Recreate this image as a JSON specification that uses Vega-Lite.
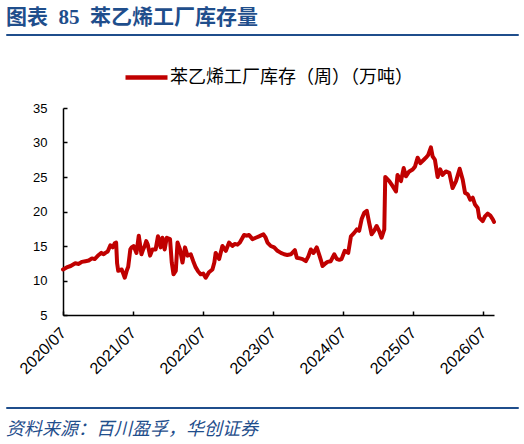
{
  "$schema": "https://vega.github.io/schema/vega-lite/v6.json",
  "background": "white",
  "padding": {"left": 5, "top": 6, "right": 5, "bottom": 5},
  "spacing": 66,
  "config": {"view": {"stroke": null}, "font": "Liberation Sans"},
  "vconcat": [
    {
      "width": 512,
      "height": 1,
      "view": {"stroke": "#1F4E8C", "strokeWidth": 1},
      "title": {"text": "图表\u00a0\u00a085\u00a0\u00a0苯乙烯工厂库存量", "anchor": "start", "orient": "top", "offset": 6, "fontSize": 21, "fontWeight": "bold", "color": "#1F4E8C", "font": "Liberation Serif, Noto Sans CJK SC"},
      "data": {"values": []},
      "mark": "point",
      "encoding": {}
    },
    {
      "spacing": 29,
      "vconcat": [
        {
          "spacing": 0,
          "hconcat": [
            {"width": 10, "height": 1, "data": {"values": []}, "mark": "point", "encoding": {}},
            {
              "width": 431,
              "height": 207,
              "data": {"values": [
                {"date": "2020-07-01", "v": 11.6},
                {"date": "2020-07-20", "v": 11.9},
                {"date": "2020-08-10", "v": 12.1},
                {"date": "2020-09-03", "v": 12.5},
                {"date": "2020-09-21", "v": 12.4},
                {"date": "2020-10-07", "v": 12.7},
                {"date": "2020-10-26", "v": 12.8},
                {"date": "2020-11-12", "v": 12.9},
                {"date": "2020-11-29", "v": 13.2},
                {"date": "2020-12-13", "v": 13.1},
                {"date": "2021-01-03", "v": 13.7},
                {"date": "2021-01-17", "v": 14.0},
                {"date": "2021-01-29", "v": 13.8},
                {"date": "2021-02-07", "v": 14.0},
                {"date": "2021-02-19", "v": 14.2},
                {"date": "2021-03-05", "v": 15.1},
                {"date": "2021-03-17", "v": 14.8},
                {"date": "2021-03-28", "v": 15.4},
                {"date": "2021-04-04", "v": 15.5},
                {"date": "2021-04-09", "v": 12.5},
                {"date": "2021-04-15", "v": 11.4},
                {"date": "2021-05-03", "v": 11.6},
                {"date": "2021-05-11", "v": 11.0},
                {"date": "2021-05-19", "v": 10.4},
                {"date": "2021-05-30", "v": 11.5},
                {"date": "2021-06-06", "v": 12.0},
                {"date": "2021-06-17", "v": 14.5},
                {"date": "2021-06-24", "v": 14.8},
                {"date": "2021-07-04", "v": 15.0},
                {"date": "2021-07-19", "v": 14.0},
                {"date": "2021-07-31", "v": 16.5},
                {"date": "2021-08-14", "v": 13.8},
                {"date": "2021-08-23", "v": 14.5},
                {"date": "2021-08-31", "v": 15.0},
                {"date": "2021-09-08", "v": 15.7},
                {"date": "2021-09-16", "v": 15.2},
                {"date": "2021-09-28", "v": 13.6},
                {"date": "2021-10-10", "v": 14.5},
                {"date": "2021-10-27", "v": 14.5},
                {"date": "2021-11-08", "v": 16.4},
                {"date": "2021-11-22", "v": 14.8},
                {"date": "2021-12-01", "v": 16.2},
                {"date": "2021-12-13", "v": 14.5},
                {"date": "2021-12-24", "v": 16.2},
                {"date": "2022-01-10", "v": 16.0},
                {"date": "2022-01-19", "v": 12.6},
                {"date": "2022-01-28", "v": 10.9},
                {"date": "2022-02-09", "v": 11.4},
                {"date": "2022-02-18", "v": 15.5},
                {"date": "2022-03-03", "v": 14.5},
                {"date": "2022-03-16", "v": 12.6},
                {"date": "2022-03-29", "v": 14.8},
                {"date": "2022-04-11", "v": 13.6},
                {"date": "2022-04-28", "v": 13.8},
                {"date": "2022-05-11", "v": 12.8},
                {"date": "2022-05-24", "v": 11.9},
                {"date": "2022-06-06", "v": 11.3},
                {"date": "2022-06-19", "v": 10.9},
                {"date": "2022-07-02", "v": 11.0},
                {"date": "2022-07-15", "v": 10.4},
                {"date": "2022-08-01", "v": 11.2},
                {"date": "2022-08-19", "v": 11.6},
                {"date": "2022-08-29", "v": 12.6},
                {"date": "2022-09-05", "v": 14.0},
                {"date": "2022-09-23", "v": 13.1},
                {"date": "2022-10-10", "v": 15.0},
                {"date": "2022-10-28", "v": 14.3},
                {"date": "2022-11-14", "v": 15.5},
                {"date": "2022-12-01", "v": 15.0},
                {"date": "2022-12-13", "v": 15.3},
                {"date": "2022-12-28", "v": 15.2},
                {"date": "2023-01-09", "v": 15.5},
                {"date": "2023-01-23", "v": 16.2},
                {"date": "2023-01-31", "v": 16.6},
                {"date": "2023-02-14", "v": 16.5},
                {"date": "2023-02-26", "v": 16.6},
                {"date": "2023-03-16", "v": 16.0},
                {"date": "2023-04-02", "v": 16.2},
                {"date": "2023-04-19", "v": 16.4},
                {"date": "2023-05-12", "v": 16.7},
                {"date": "2023-05-22", "v": 16.3},
                {"date": "2023-06-02", "v": 15.5},
                {"date": "2023-06-19", "v": 15.0},
                {"date": "2023-07-07", "v": 14.8},
                {"date": "2023-07-24", "v": 14.3},
                {"date": "2023-08-11", "v": 14.0},
                {"date": "2023-08-28", "v": 13.8},
                {"date": "2023-09-13", "v": 13.7},
                {"date": "2023-10-02", "v": 13.8},
                {"date": "2023-10-23", "v": 14.4},
                {"date": "2023-11-02", "v": 13.3},
                {"date": "2023-11-18", "v": 13.2},
                {"date": "2023-12-02", "v": 13.1},
                {"date": "2023-12-19", "v": 12.8},
                {"date": "2024-01-01", "v": 13.5},
                {"date": "2024-01-14", "v": 14.5},
                {"date": "2024-01-28", "v": 14.0},
                {"date": "2024-02-14", "v": 14.8},
                {"date": "2024-02-26", "v": 13.8},
                {"date": "2024-03-06", "v": 13.0},
                {"date": "2024-03-15", "v": 12.1},
                {"date": "2024-03-27", "v": 12.4},
                {"date": "2024-04-10", "v": 12.7},
                {"date": "2024-04-27", "v": 12.8},
                {"date": "2024-05-15", "v": 13.8},
                {"date": "2024-05-29", "v": 13.1},
                {"date": "2024-06-11", "v": 13.0},
                {"date": "2024-06-22", "v": 13.1},
                {"date": "2024-07-09", "v": 14.3},
                {"date": "2024-07-27", "v": 14.0},
                {"date": "2024-08-10", "v": 16.4},
                {"date": "2024-08-27", "v": 16.9},
                {"date": "2024-09-10", "v": 17.4},
                {"date": "2024-09-22", "v": 17.2},
                {"date": "2024-10-05", "v": 18.9},
                {"date": "2024-10-18", "v": 19.8},
                {"date": "2024-11-01", "v": 20.1},
                {"date": "2024-11-13", "v": 18.4},
                {"date": "2024-11-26", "v": 16.7},
                {"date": "2024-12-09", "v": 17.2},
                {"date": "2024-12-22", "v": 17.9},
                {"date": "2025-01-04", "v": 17.2},
                {"date": "2025-01-17", "v": 16.2},
                {"date": "2025-01-31", "v": 17.4},
                {"date": "2025-02-05", "v": 25.0},
                {"date": "2025-02-26", "v": 24.4},
                {"date": "2025-03-15", "v": 23.7},
                {"date": "2025-04-02", "v": 22.9},
                {"date": "2025-04-10", "v": 25.3},
                {"date": "2025-04-28", "v": 24.4},
                {"date": "2025-05-12", "v": 26.3},
                {"date": "2025-05-24", "v": 25.1},
                {"date": "2025-06-10", "v": 25.8},
                {"date": "2025-06-28", "v": 26.1},
                {"date": "2025-07-10", "v": 26.5},
                {"date": "2025-07-24", "v": 27.8},
                {"date": "2025-08-07", "v": 27.0},
                {"date": "2025-08-25", "v": 27.5},
                {"date": "2025-09-05", "v": 27.8},
                {"date": "2025-09-17", "v": 28.2},
                {"date": "2025-10-01", "v": 29.3},
                {"date": "2025-10-10", "v": 28.0},
                {"date": "2025-10-22", "v": 27.5},
                {"date": "2025-11-05", "v": 25.0},
                {"date": "2025-11-19", "v": 26.1},
                {"date": "2025-12-01", "v": 25.3},
                {"date": "2025-12-18", "v": 25.8},
                {"date": "2026-01-05", "v": 25.6},
                {"date": "2026-01-22", "v": 23.4},
                {"date": "2026-02-09", "v": 24.4},
                {"date": "2026-02-28", "v": 26.2},
                {"date": "2026-03-16", "v": 24.6},
                {"date": "2026-03-28", "v": 22.7},
                {"date": "2026-04-11", "v": 22.5},
                {"date": "2026-04-24", "v": 21.7},
                {"date": "2026-05-07", "v": 22.0},
                {"date": "2026-05-19", "v": 21.0},
                {"date": "2026-06-02", "v": 20.5},
                {"date": "2026-06-10", "v": 19.1},
                {"date": "2026-06-28", "v": 18.6},
                {"date": "2026-07-10", "v": 19.3},
                {"date": "2026-07-24", "v": 19.7},
                {"date": "2026-08-07", "v": 19.4},
                {"date": "2026-08-19", "v": 18.9},
                {"date": "2026-08-26", "v": 18.5}
              ]},
              "mark": {"type": "line", "strokeWidth": 4, "strokeJoin": "round", "strokeCap": "round"},
              "encoding": {
                "x": {
                  "field": "date",
                  "type": "temporal",
                  "scale": {"type": "utc", "domain": [{"year": 2020, "month": 7, "date": 1, "utc": true}, {"year": 2026, "month": 8, "date": 26, "utc": true}]},
                  "axis": {
                    "title": null,
                    "grid": false,
                    "values": [
                      {"year": 2020, "month": 7, "date": 1, "utc": true},
                      {"year": 2021, "month": 7, "date": 1, "utc": true},
                      {"year": 2022, "month": 7, "date": 1, "utc": true},
                      {"year": 2023, "month": 7, "date": 1, "utc": true},
                      {"year": 2024, "month": 7, "date": 1, "utc": true},
                      {"year": 2025, "month": 7, "date": 1, "utc": true},
                      {"year": 2026, "month": 7, "date": 1, "utc": true}
                    ],
                    "labelExpr": "utcFormat(datum.value, '%Y/%m')",
                    "labelAngle": -45,
                    "labelAlign": "right",
                    "labelBaseline": "middle",
                    "labelFontSize": 16,
                    "labelColor": "#000000",
                    "labelPadding": 19,
                    "labelFlush": false,
                    "labelOverlap": false,
                    "domainColor": "#000000",
                    "domainWidth": 1.5,
                    "tickColor": "#000000",
                    "tickWidth": 1.5,
                    "tickSize": -4
                  }
                },
                "y": {
                  "field": "v",
                  "type": "quantitative",
                  "scale": {"domain": [5, 35], "nice": false, "zero": false},
                  "axis": {
                    "title": null,
                    "grid": false,
                    "values": [5, 10, 15, 20, 25, 30, 35],
                    "labelFontSize": 13,
                    "labelColor": "#000000",
                    "labelPadding": 20,
                    "domainColor": "#000000",
                    "domainWidth": 1.5,
                    "tickColor": "#000000",
                    "tickWidth": 1.5,
                    "tickSize": -4
                  }
                },
                "color": {
                  "datum": "苯乙烯工厂库存（周）（万吨）",
                  "scale": {"range": ["#C00000"]},
                  "legend": {
                    "title": null,
                    "orient": "none",
                    "legendX": 117,
                    "legendY": 20,
                    "padding": 0,
                    "symbolType": "stroke",
                    "symbolSize": 1764,
                    "symbolStrokeWidth": 4.5,
                    "labelFontSize": 18,
                    "labelFont": "Noto Sans CJK SC",
                    "labelColor": "#000000",
                    "labelOffset": 0,
                    "labelLimit": 0
                  }
                }
              }
            }
          ]
        },
        {
          "width": 512,
          "height": 1,
          "view": {"stroke": "#1F4E8C", "strokeWidth": 1},
          "title": {"text": "资料来源：百川盈孚，华创证券", "anchor": "start", "orient": "bottom", "offset": 13, "fontSize": 18, "fontStyle": "italic", "fontWeight": "normal", "color": "#1F4E8C", "font": "Noto Sans CJK SC"},
          "data": {"values": []},
          "mark": "point",
          "encoding": {}
        }
      ]
    }
  ]
}
